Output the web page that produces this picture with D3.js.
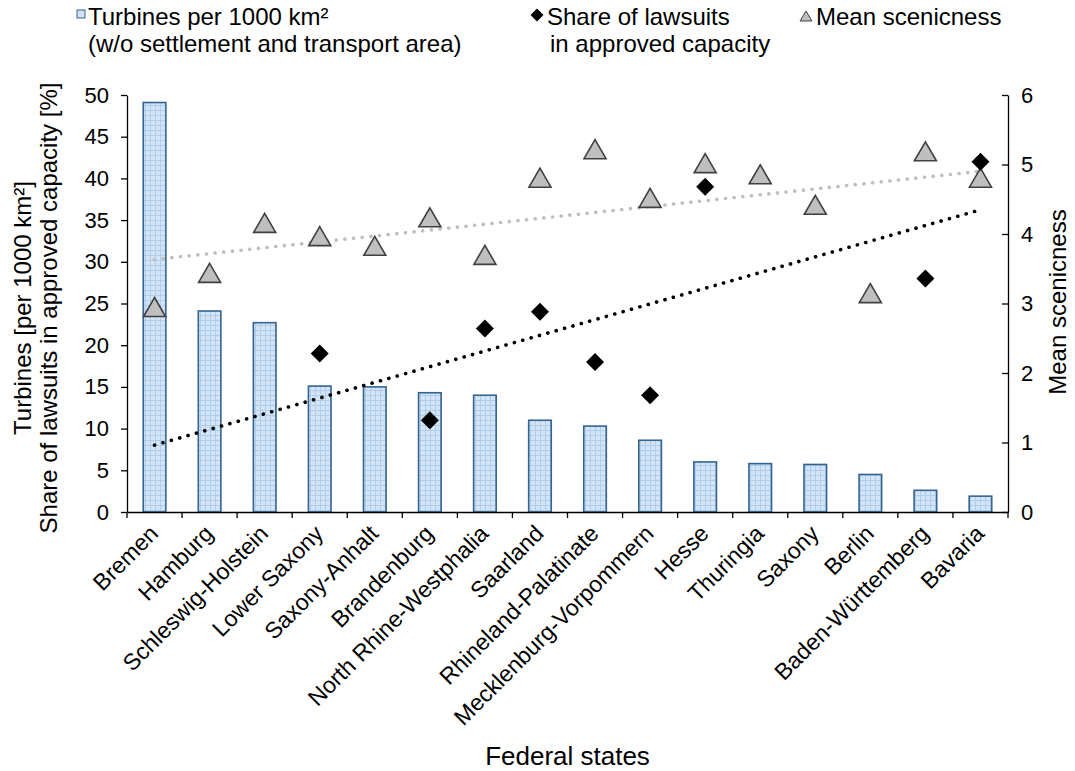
<!DOCTYPE html>
<html>
<head>
<meta charset="utf-8">
<script src="https://cdn.jsdelivr.net/npm/d3@7"></script>
<style>
  body { margin: 0; background: #fff; }
  svg { font-family: Arial, "Liberation Sans", sans-serif; }
</style>
</head>
<body>
<svg width="1075" height="771"></svg>
<script>
// Chart data
const states = ["Bremen", "Hamburg", "Schleswig-Holstein", "Lower Saxony", "Saxony-Anhalt",
  "Brandenburg", "North Rhine-Westphalia", "Saarland", "Rhineland-Palatinate",
  "Mecklenburg-Vorpommern", "Hesse", "Thuringia", "Saxony", "Berlin",
  "Baden-Württemberg", "Bavaria"];
const turbines = [49.1, 24.1, 22.7, 15.1, 15.0, 14.3, 14.0, 11.0, 10.3, 8.6, 6.0, 5.8, 5.7, 4.5, 2.6, 1.9];
// null = no lawsuit value for that state
const lawsuits = [null, null, null, 19, null, 11, 22, 24, 18, 14, 39, null, null, null, 28, 42];
const scenicness = [2.95, 3.44, 4.16, 3.97, 3.83, 4.24, 3.70, 4.81, 5.22, 4.52, 5.02, 4.86, 4.42, 3.15, 5.19, 4.81];
const leftTicks = [0, 5, 10, 15, 20, 25, 30, 35, 40, 45, 50];
const rightTicks = [0, 1, 2, 3, 4, 5, 6];

const svg = d3.select("svg"),
  margin = { top: 95, right: 67, bottom: 259, left: 127 },
  width = +svg.attr("width"),
  height = +svg.attr("height");

const x = d3.scaleBand().domain(states).range([margin.left, width - margin.right]);
const yL = d3.scaleLinear().domain([0, 50]).range([height - margin.bottom, margin.top]);
const yR = d3.scaleLinear().domain([0, 6]).range([height - margin.bottom, margin.top]);
const cx = (s) => x(s) + x.bandwidth() / 2;

// small grid fill for the bars
const defs = svg.append("defs");
const pat = defs.append("pattern").attr("id", "grid")
  .attr("width", 5).attr("height", 5).attr("patternUnits", "userSpaceOnUse");
pat.append("rect").attr("width", 5).attr("height", 5).attr("fill", "#d3e4f6");
pat.append("path").attr("d", "M0,0.5H5M0.5,0V5").attr("stroke", "#b0cdec").attr("stroke-width", 1);

// bars
const barW = x.bandwidth() * 0.41;
svg.selectAll(".bar").data(states).join("rect")
  .attr("class", "bar")
  .attr("x", (d) => cx(d) - barW / 2)
  .attr("y", (d, i) => yL(turbines[i]))
  .attr("width", barW)
  .attr("height", (d, i) => yL(0) - yL(turbines[i]))
  .attr("fill", "url(#grid)")
  .attr("stroke", "#35648f")
  .attr("stroke-width", 1.6);

// linear trend, fitted over category index (1..n), blanks skipped
function trend(vals) {
  const pts = vals.map((v, i) => [i + 1, v]).filter((p) => p[1] != null);
  const mx = d3.mean(pts, (p) => p[0]), my = d3.mean(pts, (p) => p[1]);
  const b = d3.sum(pts, (p) => (p[0] - mx) * (p[1] - my)) / d3.sum(pts, (p) => (p[0] - mx) ** 2);
  return (i) => my + b * (i - mx);
}
const tL = trend(lawsuits), tS = trend(scenicness);
const n = states.length;

svg.append("line")
  .attr("x1", cx(states[0])).attr("x2", cx(states[n - 1]))
  .attr("y1", yR(tS(1))).attr("y2", yR(tS(n)))
  .attr("stroke", "#bfbfbf").attr("stroke-width", 3.6)
  .attr("stroke-linecap", "round").attr("stroke-dasharray", "0.1 8.6");

svg.append("line")
  .attr("x1", cx(states[0])).attr("x2", cx(states[n - 1]))
  .attr("y1", yL(tL(1))).attr("y2", yL(tL(n)))
  .attr("stroke", "#000").attr("stroke-width", 3.6)
  .attr("stroke-linecap", "round").attr("stroke-dasharray", "0.1 8.6");

// markers
const tri = (w, h) => `M0,${-h / 2}L${w / 2},${h / 2}L${-w / 2},${h / 2}Z`;
const dia = (s) => `M0,${-s}L${s},0L0,${s}L${-s},0Z`;

svg.selectAll(".scen").data(states).join("path")
  .attr("class", "scen")
  .attr("transform", (d, i) => `translate(${cx(d)},${yR(scenicness[i])})`)
  .attr("d", tri(22, 19))
  .attr("fill", "#bfbfbf").attr("stroke", "#404040").attr("stroke-width", 1.6);

svg.selectAll(".law").data(states.filter((d, i) => lawsuits[i] != null)).join("path")
  .attr("class", "law")
  .attr("transform", (d) => `translate(${cx(d)},${yL(lawsuits[states.indexOf(d)])})`)
  .attr("d", dia(9))
  .attr("fill", "#000");

// axes
const gx = svg.append("g")
  .attr("transform", `translate(0,${yL(0)})`)
  .call(d3.axisBottom(x).tickSize(0).tickFormat(""));
gx.select(".domain").attr("stroke", "#000").attr("stroke-width", 1.3);
gx.selectAll(".bound").data(d3.range(n + 1)).join("line")
  .attr("x1", (i) => margin.left + i * x.bandwidth())
  .attr("x2", (i) => margin.left + i * x.bandwidth())
  .attr("y1", 0).attr("y2", 6).attr("stroke", "#000").attr("stroke-width", 1.3);

svg.selectAll(".xlab").data(states).join("text")
  .attr("class", "xlab")
  .attr("transform", (d) => `translate(${cx(d) + 5},${yL(0) + 23}) rotate(-45)`)
  .attr("text-anchor", "end")
  .attr("font-size", 23)
  .text((d) => d);

const gl = svg.append("g")
  .attr("transform", `translate(${margin.left},0)`)
  .call(d3.axisLeft(yL).tickValues(leftTicks).tickSize(6).tickPadding(12).tickSizeOuter(0));
gl.selectAll("text").attr("font-size", 22).attr("fill", "#000").attr("font-family", "Arial, 'Liberation Sans', sans-serif");
gl.selectAll("line, path").attr("stroke", "#000").attr("stroke-width", 1.3);

const gr = svg.append("g")
  .attr("transform", `translate(${width - margin.right},0)`)
  .call(d3.axisRight(yR).tickValues(rightTicks).tickFormat(d3.format("d"))
    .tickSize(-6).tickPadding(13).tickSizeOuter(0));
gr.selectAll("text").attr("font-size", 22).attr("fill", "#000").attr("font-family", "Arial, 'Liberation Sans', sans-serif");
gr.selectAll("line, path").attr("stroke", "#000").attr("stroke-width", 1.3);

// axis titles
const lt = svg.append("text")
  .attr("transform", `translate(31,308) rotate(-90)`)
  .attr("text-anchor", "middle").attr("font-size", 24);
lt.append("tspan").attr("x", 0).attr("dy", 0).text("Turbines [per 1000 km²]");
lt.append("tspan").attr("x", 0).attr("dy", 26).text("Share of lawsuits in approved capacity [%]");

svg.append("text")
  .attr("transform", `translate(1066,302) rotate(-90)`)
  .attr("text-anchor", "middle").attr("font-size", 24)
  .text("Mean scenicness");

svg.append("text")
  .attr("x", (margin.left + width - margin.right) / 2).attr("y", 765)
  .attr("text-anchor", "middle").attr("font-size", 26)
  .text("Federal states");

// legend
const lg = svg.append("g").attr("font-size", 24);
lg.append("rect").attr("x", 77).attr("y", 10).attr("width", 8).attr("height", 8)
  .attr("fill", "#d3e4f6").attr("stroke", "#35648f").attr("stroke-width", 1);
lg.append("text").attr("x", 88).attr("y", 25).text("Turbines per 1000 km²");
lg.append("text").attr("x", 88).attr("y", 52).text("(w/o settlement and transport area)");

lg.append("path").attr("transform", "translate(537,15)").attr("d", dia(6.5)).attr("fill", "#000");
lg.append("text").attr("x", 547).attr("y", 25).text("Share of lawsuits");
lg.append("text").attr("x", 550).attr("y", 52).text("in approved capacity");

lg.append("path").attr("transform", "translate(806,16)")
  .attr("d", tri(12, 10))
  .attr("fill", "#bfbfbf").attr("stroke", "#404040").attr("stroke-width", 1);
lg.append("text").attr("x", 816).attr("y", 25).text("Mean scenicness");
</script>
</body>
</html>
